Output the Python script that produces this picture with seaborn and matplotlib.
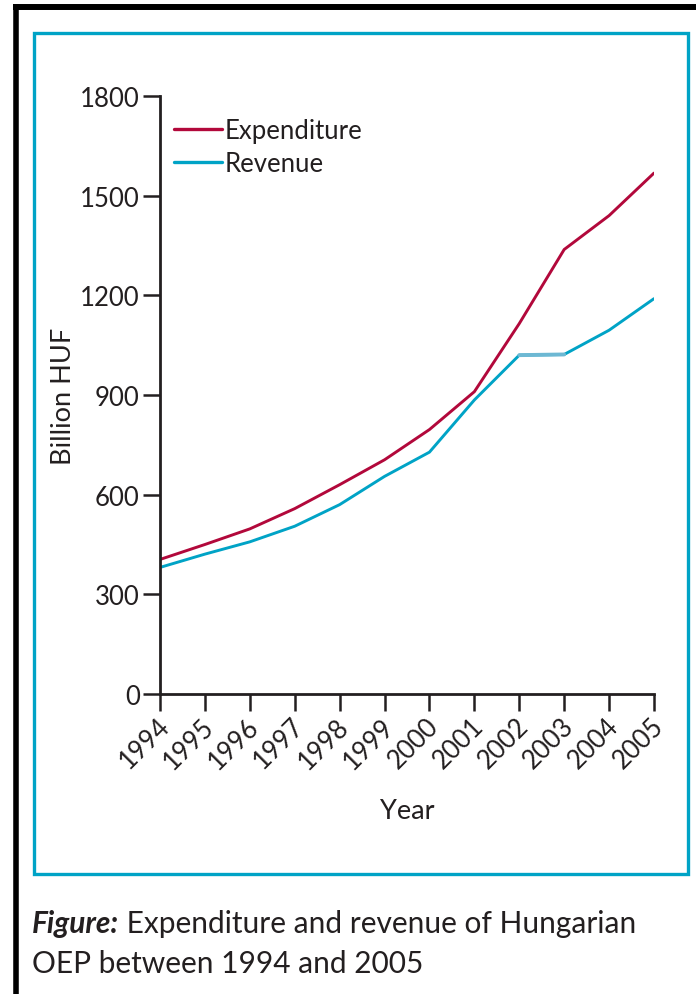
import matplotlib
matplotlib.use("Agg")
import matplotlib.pyplot as plt
import matplotlib.transforms as mtransforms
import seaborn as sns
import pandas as pd
from matplotlib.lines import Line2D
from matplotlib.patches import Rectangle

years = [1994, 1995, 1996, 1997, 1998, 1999, 2000, 2001, 2002, 2003, 2004, 2005]
expenditure = [405, 450, 497, 558, 630, 705, 796, 910, 1115, 1338, 1440, 1568]
revenue = [381, 421, 458, 505, 570, 655, 728, 885, 1020, 1022, 1095, 1190]
series_names = ["Expenditure", "Revenue"]
y_ticks = [0, 300, 600, 900, 1200, 1500, 1800]

RED = "#B2083B"
CYAN = "#00A3C6"
CYAN_LIGHT = "#6DB8D3"
INK = "#231F20"

sns.set_theme(style="white")
plt.rcParams["font.family"] = ["Lato", "DejaVu Sans"]

df = pd.DataFrame({
    "Year": years * 2,
    "Value": expenditure + revenue,
    "Series": [series_names[0]] * len(years) + [series_names[1]] * len(years),
})

W, H = 696, 995
fig = plt.figure(figsize=(W / 100, H / 100), dpi=100)
ax = fig.add_axes([160 / W, 1 - 695 / H, (654 - 160) / W, (695 - 97) / H])

sns.lineplot(data=df, x="Year", y="Value", hue="Series",
             palette={series_names[0]: RED, series_names[1]: CYAN},
             linewidth=2.1, ax=ax, legend=False)
# flat 2002-2003 revenue segment is drawn in a lighter, slightly heavier tint
flat = df[(df["Series"] == series_names[1]) & (df["Year"].isin(years[8:10]))]
sns.lineplot(data=flat, x="Year", y="Value", color=CYAN_LIGHT, linewidth=2.8,
             ax=ax, legend=False)

ax.set_xlim(years[0], years[-1])
ax.set_ylim(0, 1800)
ax.set_xticks(years)
ax.set_xticklabels([str(y) for y in years], rotation=45, ha="right",
                   va="center", rotation_mode="anchor")
ax.set_yticks(y_ticks)
ax.set_yticklabels([str(v) for v in y_ticks])

for s in ["top", "right"]:
    ax.spines[s].set_visible(False)
for s in ["left", "bottom"]:
    ax.spines[s].set_color(INK)
    ax.spines[s].set_linewidth(2.0)
ax.tick_params(axis="both", which="major", direction="out", length=12,
               width=1.8, color=INK, labelsize=18.5, labelcolor=INK,
               bottom=True, left=True)
ax.tick_params(axis="y", pad=2.5)
ax.tick_params(axis="x", pad=8)
shift = mtransforms.ScaledTranslation(5.5 / 100, 0, fig.dpi_scale_trans)
for lab in ax.get_xticklabels():
    lab.set_transform(lab.get_transform() + shift)

ax.set_xlabel("Year", fontsize=19.5, color=INK, labelpad=18)
ax.set_ylabel("Billion HUF", fontsize=19.5, color=INK, labelpad=3)

handles = [Line2D([], [], color=RED, lw=2.4), Line2D([], [], color=CYAN, lw=2.4)]
leg = ax.legend(handles, series_names, loc="upper left",
                bbox_to_anchor=(14 / 494, 1 - 22 / 598), frameon=False,
                fontsize=18.5, handlelength=1.85, handletextpad=0.12,
                labelspacing=0.32, borderaxespad=0, borderpad=0)
for t in leg.get_texts():
    t.set_color(INK)

# cyan frame
fig.patches.append(Rectangle((34.3 / W, 1 - 874.6 / H), (687.7 - 34.3) / W,
                             (874.6 - 33.5) / H, transform=fig.transFigure,
                             fill=False, edgecolor=CYAN, linewidth=2.4))
# black outer border (top and left)
fig.add_artist(Line2D([13 / W, 1], [1 - 8 / H, 1 - 8 / H],
                      transform=fig.transFigure, color="black", linewidth=4.3,
                      solid_capstyle="butt"))
fig.add_artist(Line2D([15.5 / W, 15.5 / W], [0, 1 - 5 / H],
                      transform=fig.transFigure, color="black", linewidth=4.0,
                      solid_capstyle="butt"))

# caption
CAP = 21.5
t1 = fig.text(32 / W, 1 - 933 / H, "Figure:", fontsize=CAP, fontweight="bold",
              fontstyle="italic", color=INK, va="baseline", ha="left")
ax.annotate(" Expenditure and revenue of Hungarian", xy=(1, 0),
            xycoords=t1, xytext=(0, 0), textcoords="offset points",
            fontsize=CAP, color=INK, va="bottom", ha="left",
            annotation_clip=False)
fig.text(32 / W, 1 - 973 / H, "OEP between 1994 and 2005", fontsize=CAP,
         color=INK, va="baseline", ha="left")

fig.savefig("out.png", dpi=100)
